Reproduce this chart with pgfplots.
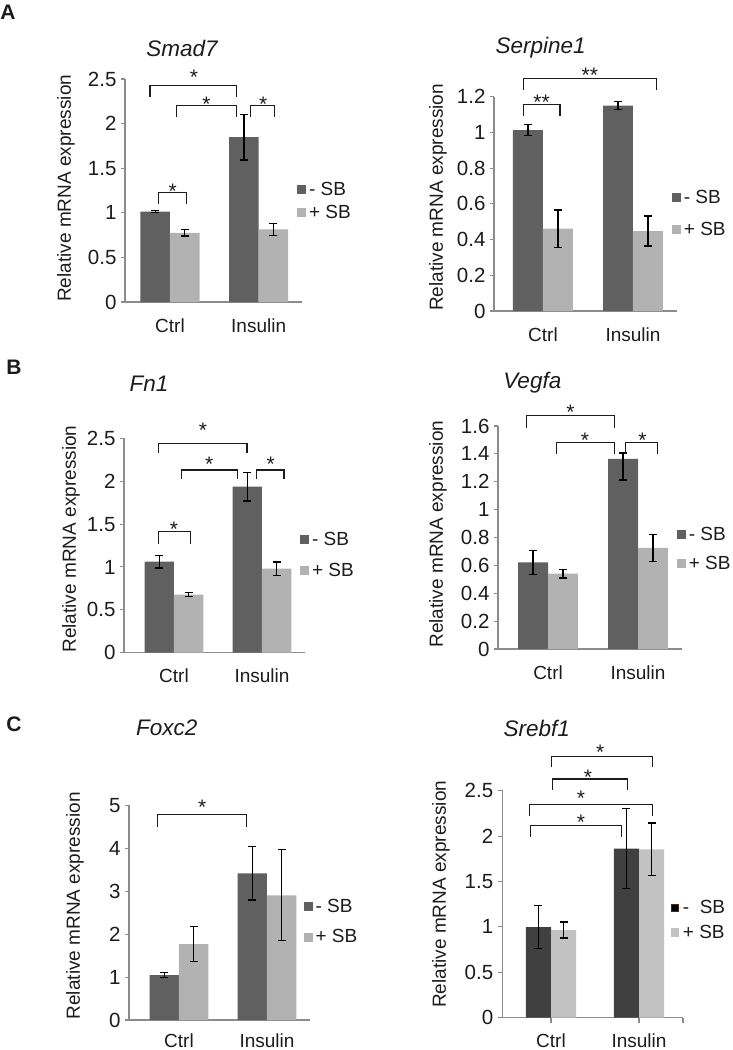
\documentclass[border=0pt]{standalone}
\usepackage{fontspec}
\setmainfont{Liberation Sans}
\usepackage{pgfplots}
\pgfplotsset{compat=1.18}
\usepackage{pgfplotstable}

\definecolor{dk}{RGB}{96,96,96}
\definecolor{lt}{RGB}{178,178,178}
\definecolor{dkk}{RGB}{64,64,64}
\definecolor{ltt}{RGB}{194,194,194}
\definecolor{axgray}{RGB}{140,140,140}
\definecolor{txt}{RGB}{28,28,28}
\definecolor{brn}{RGB}{70,40,20}

% ---------- data (x: 0 = Ctrl, 1 = Insulin) ----------
\pgfplotstableread{
x y e
0 1.012 0.012
1 1.848 0.257
}\smadM
\pgfplotstableread{
x y e
0 0.776 0.037
1 0.813 0.071
}\smadP
\pgfplotstableread{
x y e
0 1.013 0.030
1 1.150 0.022
}\serM
\pgfplotstableread{
x y e
0 0.461 0.105
1 0.448 0.084
}\serP
\pgfplotstableread{
x y e
0 1.061 0.074
1 1.936 0.167
}\fnM
\pgfplotstableread{
x y e
0 0.677 0.023
1 0.980 0.078
}\fnP
\pgfplotstableread{
x y ep em
0 0.622 0.087 0.085
1 1.364 0.043 0.151
}\vegM
\pgfplotstableread{
x y ep em
0 0.541 0.031 0.031
1 0.725 0.098 0.098
}\vegP
\pgfplotstableread{
x y e
0 1.048 0.066
1 3.416 0.620
}\foxM
\pgfplotstableread{
x y e
0 1.770 0.410
1 2.904 1.060
}\foxP
\pgfplotstableread{
x y e
0 0.999 0.235
1 1.861 0.440
}\srbM
\pgfplotstableread{
x y e
0 0.966 0.088
1 1.854 0.290
}\srbP

\newcommand{\fs}{\fontsize{19}{22}\selectfont}
\newcommand{\fsn}{\fontsize{20.5}{24}\selectfont}

\pgfplotsset{
  panel/.style={
    scale only axis, anchor=south west, clip=false,
    ybar=0pt, bar width=0.333,
    ymin=0,
    axis x line*=bottom, axis y line*=left,
    axis line style={draw=axgray, line width=1.1pt, -},
    xtick={0,1}, xticklabels={Ctrl,Insulin},
    xtick style={draw=none},
    ytick style={draw=axgray, line width=1.1pt},
    tick align=outside, major tick length=4pt,
    /pgf/number format/assume math mode=true,
    tick label style={font=\fs, text=txt},
    yticklabel style={font=\fsn, anchor=east, xshift=-1pt},
    xticklabel style={anchor=base, yshift=-26pt},
    ylabel={Relative mRNA expression},
    ylabel style={font=\fs, text=txt, anchor=center},
    legend style={draw=none, fill=none, font=\fs, text=txt, anchor=west,
      inner sep=0pt, nodes={inner sep=1pt}},
    legend cell align=left,
    legend image code/.code={\fill[##1] (0pt,-4.5pt) rectangle (9pt,4.5pt); \path (0pt,0pt) -- (11pt,0pt);},
  },
  eb/.style={error bars/.cd, y dir=both, y explicit,
    error bar style={draw=black, line width=1.2pt},
    error mark options={draw=black, line width=1.2pt, mark size=4pt, rotate=90}},
}

% bracket: x1, x2, top, legs, xstar, star offset(pt), text
\newcommand{\brk}[7]{%
  \draw[line width=1.2pt, txt] (axis cs:#1,#4) |- (axis cs:#2,#3) -- (axis cs:#2,#4);
  \node[font=\fontsize{21}{24}\selectfont, text=txt, inner sep=0pt, anchor=base]
    at (axis cs:#5,#3) [yshift=#6pt-12pt] {#7};
}

\begin{document}
\begin{tikzpicture}
\path[use as bounding box] (0,0) rectangle (733pt,-1050pt);

% ---------- panel letters and titles ----------
\node[font=\fontsize{21}{24}\selectfont\bfseries, text=txt] at (8pt,-12pt) {A};
\node[font=\fontsize{21}{24}\selectfont\bfseries, text=txt] at (14pt,-367pt) {B};
\node[font=\fontsize{21}{24}\selectfont\bfseries, text=txt] at (14pt,-724pt) {C};

\node[anchor=base, font=\fontsize{22.5}{26}\selectfont\itshape, text=txt] at (182pt,-56.7pt) {Smad7};
\node[anchor=base, font=\fontsize{22.5}{26}\selectfont\itshape, text=txt] at (540.7pt,-53.3pt) {Serpine1};
\node[anchor=base, font=\fontsize{22.5}{26}\selectfont\itshape, text=txt] at (149pt,-391.7pt) {Fn1};
\node[anchor=base, font=\fontsize{22.5}{26}\selectfont\itshape, text=txt] at (532.3pt,-388.3pt) {Vegfa};
\node[anchor=base, font=\fontsize{22.5}{26}\selectfont\itshape, text=txt] at (166.7pt,-735pt) {Foxc2};
\node[anchor=base, font=\fontsize{22.5}{26}\selectfont\itshape, text=txt] at (536.7pt,-736.7pt) {Srebf1};

% ---------- A: Smad7 ----------
\begin{axis}[panel, at={(125pt,-302pt)}, width=176.7pt, height=223pt,
  xmin=-0.507, xmax=1.485, ymax=2.5, ytick={0,0.5,1,1.5,2,2.5},
  ylabel style={at={(rel axis cs:-0.334,0.51)}},
  legend style={at={(rel axis cs:0.973,0.453)}, row sep=6pt}]
\addplot[fill=dk, draw=none, eb] table[x=x, y=y, y error=e] {\smadM};
\addplot[fill=lt, draw=none, eb] table[x=x, y=y, y error=e] {\smadP};
\legend{- SB, + SB}
\brk{-0.225}{0.752}{2.43}{2.30}{0.27}{13}{*}
\brk{0.075}{0.752}{2.20}{2.07}{0.41}{6}{*}
\brk{0.91}{1.176}{2.20}{2.07}{1.05}{6}{*}
\brk{-0.132}{0.188}{1.23}{1.10}{0.03}{6}{*}
\end{axis}

% ---------- A: Serpine1 ----------
\begin{axis}[panel, at={(494pt,-311pt)}, width=183pt, height=214.3pt,
  xmin=-0.544, xmax=1.489, ymax=1.2, ytick={0,0.2,0.4,0.6,0.8,1,1.2},
  ylabel style={at={(rel axis cs:-0.306,0.53)}},
  legend style={at={(rel axis cs:0.971,0.454)}, row sep=15pt}]
\addplot[fill=dk, draw=none, eb] table[x=x, y=y, y error=e] {\serM};
\addplot[fill=lt, draw=none, eb] table[x=x, y=y, y error=e] {\serP};
\legend{- SB, + SB}
\brk{-0.22}{0.19}{1.155}{1.09}{-0.015}{7}{**}
\brk{-0.22}{1.26}{1.30}{1.24}{0.52}{8}{**}
\end{axis}

% ---------- B: Fn1 ----------
\begin{axis}[panel, at={(124pt,-652.7pt)}, width=181pt, height=214.4pt,
  xmin=-0.568, xmax=1.489, ymax=2.5, ytick={0,0.5,1,1.5,2,2.5},
  ylabel style={at={(rel axis cs:-0.293,0.53)}},
  legend style={at={(rel axis cs:0.972,0.456)}, row sep=14pt}]
\addplot[fill=dk, draw=none, eb] table[x=x, y=y, y error=e] {\fnM};
\addplot[fill=lt, draw=none, eb] table[x=x, y=y, y error=e] {\fnP};
\legend{- SB, + SB}
\brk{-0.18}{0.83}{2.44}{2.33}{0.33}{18}{*}
\brk{0.09}{0.72}{2.13}{2.02}{0.40}{11}{*}
\brk{0.94}{1.25}{2.13}{2.02}{1.10}{11}{*}
\brk{-0.18}{0.19}{1.41}{1.27}{0.0}{7}{*}
\end{axis}

% ---------- B: Vegfa ----------
\begin{axis}[panel, at={(498pt,-649pt)}, width=184pt, height=223pt,
  xmin=-0.556, xmax=1.489, ymax=1.6, ytick={0,0.2,0.4,0.6,0.8,1,1.2,1.4,1.6},
  ylabel style={at={(rel axis cs:-0.326,0.515)}},
  legend style={at={(rel axis cs:0.971,0.448)}, row sep=12pt}]
\addplot[fill=dk, draw=none, eb] table[x=x, y=y, y error plus=ep, y error minus=em] {\vegM};
\addplot[fill=lt, draw=none, eb] table[x=x, y=y, y error plus=ep, y error minus=em] {\vegP};
\legend{- SB, + SB}
\brk{-0.24}{0.74}{1.677}{1.589}{0.25}{8}{*}
\brk{0.09}{0.74}{1.481}{1.40}{0.41}{7}{*}
\brk{0.86}{1.22}{1.481}{1.40}{1.05}{7}{*}
\end{axis}

% ---------- C: Foxc2 ----------
\begin{axis}[panel, at={(129pt,-1020pt)}, width=181pt, height=214.7pt,
  xmin=-0.568, xmax=1.489, ymax=5, ytick={0,1,2,3,4,5},
  xticklabel style={yshift=2.5pt},
  ylabel style={at={(rel axis cs:-0.298,0.532)}},
  legend style={at={(rel axis cs:0.963,0.458)}, row sep=14pt}]
\addplot[fill=dk, draw=none, eb] table[x=x, y=y, y error=e] {\foxM};
\addplot[fill=lt, draw=none, eb] table[x=x, y=y, y error=e] {\foxP};
\legend{- SB, + SB}
\brk{-0.24}{0.77}{4.79}{4.50}{0.265}{12}{*}
\end{axis}

% ---------- C: Srebf1 ----------
\begin{axis}[panel, at={(502.7pt,-1017.7pt)}, width=180.3pt, height=227pt,
  xmin=-0.549, xmax=1.5, ymax=2.5, ytick={0,0.5,1,1.5,2,2.5},
  bar width=0.286,
  xtick={0,1,1.5}, xticklabels={Ctrl,Insulin,{}},
  xtick style={draw=axgray, line width=1.1pt}, major tick length=5pt,
  xticklabel style={yshift=1pt},
  ylabel style={at={(rel axis cs:-0.342,0.544)}},
  legend style={at={(rel axis cs:0.932,0.43)}, row sep=8pt},
  legend image code/.code={\filldraw[#1, line width=0.9pt] (0.5pt,-3.6pt) rectangle (7.7pt,3.6pt); \path (0pt,0pt) -- (11pt,0pt);}]
\addplot[fill=dkk, draw=none, legend image post style={fill=black, draw=brn}, eb] table[x=x, y=y, y error=e] {\srbM};
\addplot[fill=ltt, draw=none, legend image post style={draw=ltt}, eb] table[x=x, y=y, y error=e] {\srbP};
\legend{-\ \ SB, + SB}
\brk{0.01}{1.15}{2.88}{2.76}{0.56}{9}{*}
\brk{0.02}{0.87}{2.63}{2.51}{0.42}{6}{*}
\brk{-0.24}{1.15}{2.35}{2.22}{0.34}{11}{*}
\brk{-0.23}{0.80}{2.12}{1.99}{0.34}{8}{*}
\end{axis}
\end{tikzpicture}
\end{document}
